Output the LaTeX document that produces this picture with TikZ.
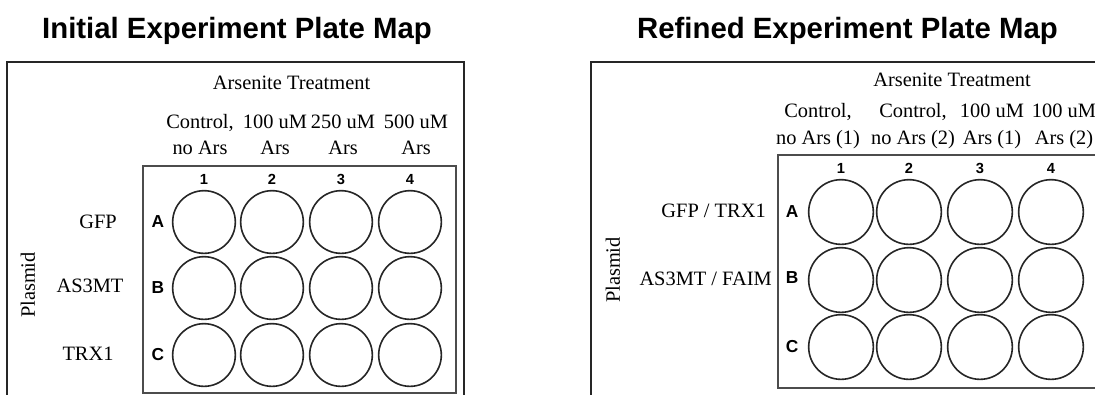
\documentclass[tikz,border=0pt]{standalone}
\usepackage{fontspec}
\setmainfont{Liberation Serif}
\newfontfamily\arialfont{Liberation Sans}
\tikzset{
  title/.style={font=\arialfont\bfseries\fontsize{22}{26}\selectfont, inner sep=0pt},
  lbl/.style={font=\fontsize{15.3}{18}\selectfont, inner sep=0pt, anchor=base},
  num/.style={font=\arialfont\bfseries\fontsize{11}{13}\selectfont, inner sep=0pt},
  rowlbl/.style={font=\arialfont\bfseries\fontsize{13}{15}\selectfont, inner sep=0pt},
  frame/.style={draw=black!85, line width=1.4pt},
  plate/.style={draw=black!70, line width=1.4pt},
  well/.style={circle, draw=black!85, line width=1.2pt, inner sep=0pt, minimum size=#1},
}
\begin{document}
\begin{tikzpicture}[x=0.75pt, y=-0.75pt]
  \useasboundingbox (0,0) rectangle (1095,394);
  \clip (0,0) rectangle (1095,394);
  % initial plate map
  \node[title, anchor=base] (title1) at (237,38) {Initial Experiment Plate Map};
  \draw[frame] (7,62) rectangle (464,430);
  \draw[plate] (143,166) rectangle (456,393);
  \node[lbl] (ars1) at (291.5,89.5) {Arsenite Treatment};
  \foreach \x/\a/\b [count=\i] in {200/{Control,}/no Ars, 275/100 uM/Ars, 343/250 uM/Ars, 416/500 uM/Ars} {
    \node[lbl] (top1-\i) at (\x,128) {\a};
    \node[lbl] (bot1-\i) at (\x,154) {\b};
  }
  \foreach \x [count=\c] in {204,272,341,410} {
    \node[num] (num1-\c) at (\x,179) {\c};
    \foreach \y [count=\r] in {222,288,355} {
      \node[well=47pt] (w1-\r-\c) at (\x,\y) {};
    }
  }
  \foreach \y/\l in {222/A, 288/B, 355/C} {
    \node[rowlbl] (row1-\l) at (158,\y) {\l};
  }
  \node[lbl] (gfp1) at (98,228) {GFP};
  \node[lbl] (as3mt1) at (90,292) {AS3MT};
  \node[lbl] (trx1) at (88,360) {TRX1};
  \node[lbl, anchor=center, rotate=90] (plasmid1) at (28,285) {Plasmid};

  % refined plate map
  \node[title, anchor=base] (title2) at (847.5,38) {Refined Experiment Plate Map};
  \draw[frame] (591,62) rectangle (1130,430);
  \draw[plate] (778,155) rectangle (1120,388);
  \node[lbl] (ars2) at (952,86) {Arsenite Treatment};
  \foreach \x/\a/\b [count=\i] in {818/{Control,}/no Ars (1), 913/{Control,}/no Ars (2), 992/100 uM/Ars (1), 1064/100 uM/Ars (2)} {
    \node[lbl] (top2-\i) at (\x,117) {\a};
    \node[lbl] (bot2-\i) at (\x,144) {\b};
  }
  \foreach \x [count=\c] in {841,909,980,1051} {
    \node[num] (num2-\c) at (\x,168) {\c};
    \foreach \y [count=\r] in {212,280,347} {
      \node[well=48.5pt] (w2-\r-\c) at (\x,\y) {};
    }
  }
  \foreach \y/\l in {212/A, 278/B, 347/C} {
    \node[rowlbl] (row2-\l) at (792,\y) {\l};
  }
  \node[lbl, anchor=base east] (gfp2) at (766,217) {GFP / TRX1};
  \node[lbl, anchor=base east] (as3mt2) at (772,285) {AS3MT / FAIM};
  \node[lbl, anchor=center, rotate=90] (plasmid2) at (613,270) {Plasmid};
\end{tikzpicture}
\end{document}
